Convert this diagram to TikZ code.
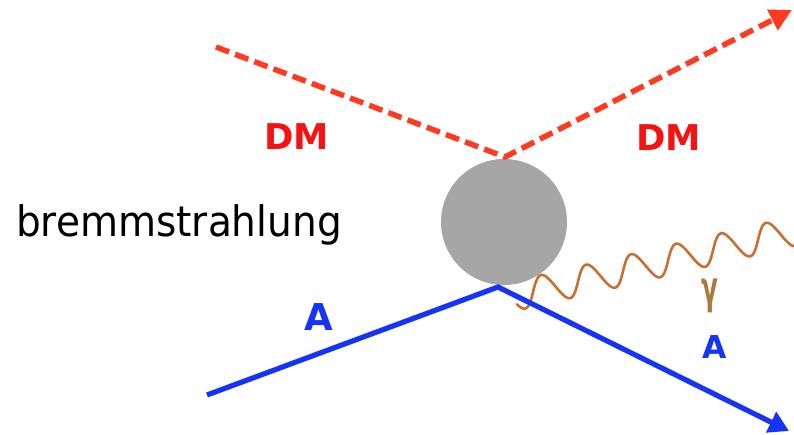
\documentclass[tikz,border=0pt]{standalone}
\usepackage{fontspec}
\setmainfont{DejaVu Sans}
\usetikzlibrary{arrows.meta}
\definecolor{dashred}{RGB}{255,58,32}
\definecolor{dmred}{RGB}{245,18,18}
\definecolor{ablue}{RGB}{22,52,245}
\definecolor{photonc}{RGB}{200,112,52}
\definecolor{gammac}{RGB}{172,122,62}
\definecolor{blobgray}{RGB}{166,166,166}
\tikzset{
  dmline/.style={draw=dashred, line width=5.5pt, dash pattern=on 14pt off 6.5pt, -{Triangle[length=22pt,width=22pt]}},
  aline/.style={draw=ablue, line width=5.2pt, -{Triangle[length=20pt,width=22pt]}},
  photon/.style={draw=photonc, line width=2.6pt, line cap=round},
  dmlabel/.style={anchor=base, text=dmred, font=\bfseries\fontsize{35.5}{40}\selectfont},
  alabel/.style={anchor=base, text=ablue, font=\bfseries\fontsize{#1}{40}\selectfont},
}
\begin{document}
\begin{tikzpicture}[x=1pt,y=-1pt]
\useasboundingbox (0,0) rectangle (794,435);
\coordinate (r0) at (216,47);
\coordinate (v1) at (505,157);
\coordinate (r1) at (792,10);
\coordinate (b0) at (207,395);
\coordinate (v2) at (498,287);
\coordinate (b1) at (789,431);
\node[circle, fill=blobgray, minimum size=126pt, inner sep=0pt] (blob) at (504,222) {};
\draw[photon] plot[domain=0:286.4, samples=400, smooth, variable=\t]
  ({515+\t*cos(13.06)+14.5*cos(7.7922*(\t-7))*sin(13.06)},
   {296-\t*sin(13.06)+14.5*cos(7.7922*(\t-7))*cos(13.06)});
\draw[dmline] (r0) -- (v1) -- (r1);
\draw[aline] (b0) -- (v2) -- (b1);
\node[dmlabel] (dm1) at (296.5,150) {DM};
\node[dmlabel] (dm2) at (668.5,151) {DM};
\node[alabel=37] (a1) at (318.5,330) {A};
\node[alabel=31.5] (a2) at (714.5,358) {A};
\node[anchor=base, text=gammac, font=\bfseries\fontsize{45}{50}\selectfont, xscale=0.55] (g) at (710,303) {γ};
\node[anchor=base, text=black, font=\fontsize{42}{48}\selectfont, xscale=0.93] (brem) at (179,237) {bremmstrahlung};
\end{tikzpicture}
\end{document}
